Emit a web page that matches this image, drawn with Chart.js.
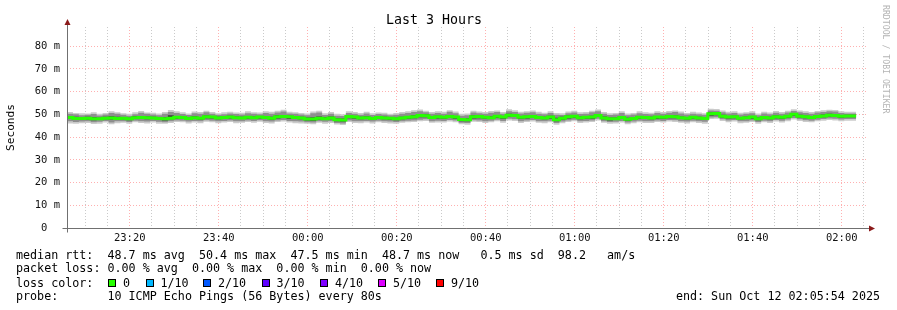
<!DOCTYPE html>
<html>
<head>
<meta charset="utf-8">
<script src="https://cdn.jsdelivr.net/npm/chart.js@4/dist/chart.umd.min.js"></script>
<style>
html, body { margin: 0; padding: 0; background: #fff; }
#wrap { position: relative; width: 897px; height: 310px; overflow: hidden; }
#chart { position: absolute; left: 0; top: 0; }
.txt { position: absolute; font: 11.7px 'DejaVu Sans Mono', monospace; line-height: 14px; white-space: pre; color: #000; }
.swatch { position: absolute; width: 6px; height: 6px; border: 1px solid #000; }
#mark { position: absolute; left: 881px; top: 5px; writing-mode: vertical-rl; font: 8.2px 'DejaVu Sans Mono', monospace; color: #b4b4b4; white-space: pre; }
</style>
</head>
<body>
<div id="wrap">
  <canvas id="chart" width="897" height="310"></canvas>
  <div id="mark">RRDTOOL / TOBI OETIKER</div>
</div>
<script>
// time axis in minutes from midnight (23:05:54 .. 02:05:54)
const startMin = -54.1;
const endMin = 125.9;
const stepMin = 80 / 60;

// median rtt per 80s probe (ms)
const medianRtt = [
  48.9, 48.6, 48.2, 48.2, 48.3, 48.1, 48.0, 48.3, 48.4, 48.2,
  48.3, 48.0, 48.5, 48.6, 48.5, 48.4, 48.2, 48.0, 48.3, 48.7,
  48.6, 48.2, 48.5, 48.3, 48.9, 48.8, 48.4, 48.6, 48.8, 48.5,
  48.4, 48.7, 48.5, 48.8, 48.6, 48.3, 48.9, 49.0, 48.9, 48.6,
  48.4, 47.9, 47.9, 48.3, 48.1, 48.4, 47.6, 47.5, 49.0, 48.8,
  48.4, 48.5, 48.2, 48.6, 48.4, 48.3, 48.0, 48.4, 48.7, 48.9,
  49.5, 49.4, 48.6, 48.9, 48.7, 49.0, 48.8, 47.7, 47.6, 48.9,
  49.0, 48.7, 48.5, 49.1, 48.8, 49.6, 49.5, 48.7, 48.9, 49.0,
  48.6, 48.4, 48.8, 47.6, 48.3, 48.9, 49.1, 48.5, 48.7, 48.8,
  49.5, 48.4, 48.0, 48.1, 48.6, 47.8, 48.2, 48.7, 48.6, 48.4,
  48.8, 48.7, 49.0, 48.9, 48.5, 48.3, 48.7, 48.4, 48.2, 50.2,
  50.4, 49.2, 48.8, 48.9, 48.3, 48.5, 48.8, 48.0, 48.6, 48.4,
  48.9, 48.7, 49.1, 50.0, 49.2, 48.9, 48.6, 49.0, 49.3, 49.6,
  49.5, 49.2, 49.3
];

// smoke, outer layer: slowest / fastest ping of each probe (ms)
const pingMax = [
  50.8, 51.0, 50.6, 50.5, 50.4, 50.9, 50.3, 50.6, 51.4, 50.9,
  50.5, 50.2, 50.9, 51.5, 50.8, 50.7, 50.4, 51.0, 51.9, 51.4,
  50.9, 50.4, 51.2, 51.0, 51.6, 51.0, 50.5, 50.9, 51.1, 50.8,
  50.7, 51.3, 50.9, 50.8, 51.3, 51.1, 51.6, 52.0, 51.1, 50.9,
  50.6, 50.4, 51.2, 51.6, 50.5, 51.0, 50.2, 50.0, 51.3, 51.0,
  50.6, 51.1, 50.5, 50.8, 50.7, 50.3, 50.6, 51.0, 51.4, 51.8,
  52.1, 51.6, 51.0, 51.3, 51.1, 51.8, 51.2, 50.2, 50.4, 51.6,
  51.2, 51.0, 51.5, 51.7, 51.0, 52.2, 51.8, 51.1, 51.4, 51.7,
  51.1, 50.7, 51.3, 50.6, 50.5, 51.2, 51.6, 50.9, 51.0, 51.6,
  52.1, 51.0, 50.5, 50.6, 51.4, 50.4, 50.6, 51.3, 50.9, 50.7,
  51.4, 51.0, 51.5, 51.7, 51.2, 50.6, 51.1, 50.8, 50.5, 52.4,
  52.3, 51.7, 51.1, 51.4, 50.7, 50.9, 51.3, 50.4, 51.1, 50.8,
  51.5, 51.0, 51.6, 52.2, 51.7, 51.3, 51.0, 51.5, 51.8, 52.0,
  51.9, 51.4, 51.1
];
const pingMin = [
  46.4, 46.0, 45.9, 46.1, 46.2, 45.7, 45.9, 46.4, 45.6, 46.1,
  46.3, 45.8, 46.5, 46.2, 46.0, 46.4, 45.9, 45.8, 46.2, 46.6,
  46.5, 46.0, 46.4, 46.1, 46.7, 46.5, 46.1, 46.4, 46.6, 46.1,
  46.3, 46.6, 46.3, 46.7, 46.2, 46.0, 46.6, 46.8, 46.4, 46.1,
  46.0, 45.8, 45.6, 46.3, 45.9, 46.2, 45.5, 45.3, 46.6, 46.2,
  46.1, 46.4, 46.0, 46.5, 46.2, 46.0, 45.9, 46.3, 46.5, 46.6,
  46.9, 47.1, 46.3, 46.4, 46.4, 46.8, 46.5, 45.6, 45.4, 46.7,
  46.6, 46.2, 46.5, 46.9, 46.3, 47.3, 47.1, 46.2, 46.6, 46.8,
  46.3, 46.1, 46.5, 45.4, 46.1, 46.6, 46.9, 46.2, 46.4, 46.6,
  47.3, 46.3, 45.8, 46.0, 46.4, 45.6, 46.1, 46.5, 46.2, 46.2,
  46.6, 46.4, 46.8, 46.6, 46.3, 46.0, 46.5, 46.2, 45.9, 47.9,
  48.0, 47.1, 46.5, 46.8, 46.1, 46.3, 46.6, 45.8, 46.5, 46.2,
  46.8, 46.4, 47.0, 47.7, 47.1, 46.6, 46.5, 46.9, 47.2, 47.5,
  47.3, 47.0, 47.2
];
// smoke, middle layer (ms)
const midHi = [
  50.0, 50.3, 50.0, 49.6, 49.8, 50.1, 49.5, 49.9, 50.6, 50.2,
  49.8, 49.4, 50.0, 50.7, 50.2, 49.9, 49.6, 50.3, 51.0, 50.6,
  50.1, 49.7, 50.5, 50.2, 50.9, 50.3, 49.8, 50.0, 50.4, 50.1,
  49.9, 50.5, 50.2, 50.0, 50.6, 50.3, 50.8, 51.2, 50.4, 50.2,
  49.9, 49.6, 50.5, 50.8, 49.7, 50.2, 49.4, 49.3, 50.6, 50.2,
  49.8, 50.4, 49.7, 50.1, 49.9, 49.6, 49.8, 50.3, 50.6, 51.0,
  51.3, 50.9, 50.2, 50.6, 50.3, 51.1, 50.5, 49.4, 49.6, 50.8,
  50.5, 50.2, 50.7, 51.0, 50.3, 51.4, 51.0, 50.4, 50.7, 50.9,
  50.3, 50.0, 50.6, 49.8, 49.7, 50.5, 50.8, 50.1, 50.3, 50.9,
  51.4, 50.2, 49.7, 49.9, 50.6, 49.6, 49.9, 50.5, 50.1, 50.0,
  50.6, 50.3, 50.7, 51.0, 50.4, 49.9, 50.3, 50.0, 49.8, 51.7,
  51.6, 50.9, 50.4, 50.6, 49.9, 50.2, 50.5, 49.6, 50.4, 50.0,
  50.7, 50.3, 50.8, 51.5, 50.9, 50.6, 50.2, 50.8, 51.0, 51.3,
  51.2, 50.6, 50.4
];
const midLo = [
  47.2, 46.9, 46.6, 46.8, 47.0, 46.5, 46.7, 47.1, 46.4, 46.9,
  47.0, 46.6, 47.2, 47.0, 46.8, 47.1, 46.7, 46.5, 47.0, 47.3,
  47.2, 46.8, 47.1, 46.9, 47.4, 47.2, 46.9, 47.1, 47.3, 46.9,
  47.0, 47.3, 47.1, 47.4, 47.0, 46.8, 47.3, 47.5, 47.1, 46.9,
  46.8, 46.5, 46.4, 47.0, 46.7, 46.9, 46.2, 46.0, 47.3, 47.0,
  46.9, 47.1, 46.8, 47.2, 46.9, 46.8, 46.6, 47.0, 47.2, 47.3,
  47.6, 47.8, 47.0, 47.2, 47.1, 47.5, 47.3, 46.3, 46.2, 47.4,
  47.3, 47.0, 47.2, 47.6, 47.1, 48.0, 47.8, 47.0, 47.3, 47.5,
  47.0, 46.9, 47.2, 46.2, 46.8, 47.3, 47.6, 47.0, 47.1, 47.3,
  48.0, 47.0, 46.6, 46.7, 47.1, 46.4, 46.8, 47.2, 47.0, 46.9,
  47.3, 47.1, 47.5, 47.4, 47.0, 46.8, 47.2, 47.0, 46.7, 48.6,
  48.7, 47.8, 47.3, 47.5, 46.9, 47.0, 47.3, 46.6, 47.2, 47.0,
  47.5, 47.2, 47.7, 48.4, 47.8, 47.4, 47.2, 47.6, 47.9, 48.2,
  48.0, 47.7, 47.9
];
// smoke, dense layer around the median (ms)
const smokeHi = [
  49.4, 49.3, 48.9, 48.7, 48.9, 48.8, 48.5, 48.9, 49.2, 48.9,
  48.8, 48.5, 49.1, 49.3, 49.0, 48.9, 48.6, 48.7, 49.6, 49.3,
  49.1, 48.7, 49.2, 48.8, 49.5, 49.3, 48.9, 49.1, 49.4, 49.0,
  48.9, 49.3, 49.0, 49.3, 49.2, 48.9, 49.6, 49.7, 49.4, 49.2,
  48.9, 48.6, 48.7, 49.0, 48.7, 49.0, 48.3, 48.2, 49.6, 49.3,
  48.9, 49.1, 48.7, 49.1, 48.9, 48.8, 48.5, 48.9, 49.3, 49.6,
  50.1, 49.9, 49.2, 49.4, 49.2, 49.7, 49.3, 48.4, 48.3, 49.5,
  49.5, 49.2, 49.1, 49.7, 49.3, 50.2, 50.0, 49.2, 49.4, 49.6,
  49.1, 48.9, 49.4, 48.5, 48.9, 49.5, 49.7, 49.0, 49.2, 49.4,
  50.1, 49.0, 48.6, 48.6, 49.2, 48.5, 48.7, 49.2, 49.1, 48.9,
  49.3, 49.2, 49.6, 49.5, 49.0, 48.8, 49.3, 48.9, 48.7, 50.8,
  50.9, 49.8, 49.3, 49.4, 48.8, 49.0, 49.3, 48.6, 49.1, 48.9,
  49.5, 49.2, 49.6, 50.6, 49.8, 49.4, 49.1, 49.6, 49.9, 50.2,
  50.0, 49.7, 49.8
];
const smokeLo = [
  48.2, 48.0, 47.6, 47.5, 47.7, 47.4, 47.5, 47.8, 47.7, 47.6,
  47.8, 47.4, 47.9, 48.0, 47.8, 47.9, 47.6, 47.3, 47.8, 48.1,
  48.0, 47.7, 47.9, 47.7, 48.3, 48.2, 47.8, 48.0, 48.2, 47.9,
  47.9, 48.1, 47.9, 48.2, 48.0, 47.7, 48.2, 48.4, 48.1, 47.9,
  47.8, 47.3, 47.2, 47.7, 47.6, 47.8, 46.9, 46.8, 48.3, 48.1,
  47.8, 47.9, 47.6, 47.9, 47.8, 47.6, 47.4, 47.8, 48.1, 48.3,
  48.7, 48.7, 47.9, 48.2, 48.0, 48.4, 48.1, 47.0, 46.9, 48.2,
  48.3, 48.0, 47.9, 48.4, 48.1, 48.9, 48.8, 48.0, 48.2, 48.4,
  47.9, 47.8, 48.1, 46.9, 47.6, 48.2, 48.5, 47.8, 48.0, 48.1,
  48.8, 47.8, 47.3, 47.5, 48.0, 47.2, 47.6, 48.0, 47.9, 47.8,
  48.1, 48.0, 48.3, 48.3, 47.9, 47.7, 48.1, 47.8, 47.5, 49.4,
  49.6, 48.6, 48.2, 48.3, 47.8, 47.9, 48.1, 47.4, 48.0, 47.8,
  48.3, 48.1, 48.5, 49.3, 48.6, 48.3, 48.0, 48.4, 48.7, 49.0,
  48.8, 48.5, 48.7
];

const lossLabels = ['0', '1/10', '2/10', '3/10', '4/10', '5/10', '9/10'];
const lossColors = ['#26ff00', '#00b8ff', '#0059ff', '#5e00ff', '#7e00ff', '#dd00ff', '#ff0000'];
const swatchX = [108, 145.5, 203, 261.5, 320, 378, 436];

const legendLines = [
  'median rtt:  48.7 ms avg  50.4 ms max  47.5 ms min  48.7 ms now   0.5 ms sd  98.2   am/s',
  'packet loss: 0.00 % avg  0.00 % max  0.00 % min  0.00 % now',
  'loss color:',
  'probe:       10 ICMP Echo Pings (56 Bytes) every 80s'
];
const endText = 'end: Sun Oct 12 02:05:54 2025';
const lineTops = [247.5, 261.3, 275.7, 289];

const wrap = document.getElementById('wrap');
function addText(str, left, top) {
  const d = document.createElement('div');
  d.className = 'txt';
  d.textContent = str;
  d.style.left = left + 'px';
  d.style.top = top + 'px';
  wrap.appendChild(d);
  return d;
}
legendLines.forEach((l, i) => addText(l, 16, lineTops[i]));
const endDiv = addText(endText, 0, lineTops[3]);
endDiv.style.left = 'auto';
endDiv.style.right = '17px';
lossLabels.forEach((lab, i) => {
  const sw = document.createElement('div');
  sw.className = 'swatch';
  sw.style.left = swatchX[i] + 'px';
  sw.style.top = '279px';
  sw.style.background = lossColors[i];
  wrap.appendChild(sw);
  addText(lab, swatchX[i] + 15, lineTops[2]);
});

// each probe covers one 80s step; repeat the last value to close its step
function toPoints(arr) {
  const pts = arr.map((v, i) => ({ x: startMin + i * stepMin, y: v }));
  pts.push({ x: startMin + arr.length * stepMin, y: arr[arr.length - 1] });
  return pts;
}

function clock(v) {
  const m = (Math.round(v) + 1440) % 1440;
  const h = Math.floor(m / 60);
  const mm = m % 60;
  return String(h).padStart(2, '0') + ':' + String(mm).padStart(2, '0');
}

// grid every 5 units (5 min / 5 ms)
const everyFive = (scale) => {
  const ticks = [];
  for (let v = Math.ceil(scale.min / 5) * 5; v <= scale.max + 1e-9; v += 5) ticks.push({ value: v });
  scale.ticks = ticks;
};

const majorGrid = 'rgba(255, 80, 80, 0.45)';
const minorGrid = 'rgba(150, 150, 150, 0.5)';
const monoFont = "'DejaVu Sans Mono', monospace";

const axisArrows = {
  id: 'axisArrows',
  afterDraw(chart) {
    const { ctx, chartArea: a } = chart;
    const l = Math.round(a.left) + 0.5;
    const b = Math.round(a.bottom) + 0.5;
    ctx.save();
    ctx.strokeStyle = '#707070';
    ctx.lineWidth = 1;
    ctx.beginPath();
    ctx.moveTo(l, b + 4);
    ctx.lineTo(l, a.top - 3);
    ctx.moveTo(l - 5, b);
    ctx.lineTo(a.right + 2, b);
    ctx.stroke();
    ctx.fillStyle = '#8b1a1a';
    ctx.beginPath();
    ctx.moveTo(l, a.top - 8);
    ctx.lineTo(l - 3, a.top - 2);
    ctx.lineTo(l + 3, a.top - 2);
    ctx.closePath();
    ctx.fill();
    ctx.beginPath();
    ctx.moveTo(a.right + 7, b);
    ctx.lineTo(a.right + 1, b - 3);
    ctx.lineTo(a.right + 1, b + 3);
    ctx.closePath();
    ctx.fill();
    ctx.restore();
  }
};

const stepLine = { stepped: 'after', pointRadius: 0, borderWidth: 0, tension: 0, borderColor: 'rgba(0,0,0,0)' };

new Chart(document.getElementById('chart'), {
  type: 'line',
  data: {
    datasets: [
      { ...stepLine, label: 'max', data: toPoints(pingMax), fill: '+1', backgroundColor: '#cbcbcb', order: 7 },
      { ...stepLine, label: 'min', data: toPoints(pingMin), fill: false, order: 6 },
      { ...stepLine, label: 'mid hi', data: toPoints(midHi), fill: '+1', backgroundColor: '#8e8e8e', order: 5 },
      { ...stepLine, label: 'mid lo', data: toPoints(midLo), fill: false, order: 4 },
      { ...stepLine, label: 'hi', data: toPoints(smokeHi), fill: '+1', backgroundColor: '#3c3c3c', order: 3 },
      { ...stepLine, label: 'lo', data: toPoints(smokeLo), fill: false, order: 2 },
      { ...stepLine, label: 'median rtt', data: toPoints(medianRtt), fill: false, borderColor: lossColors[0], borderWidth: 3, order: 1 }
    ]
  },
  options: {
    responsive: false,
    animation: false,
    devicePixelRatio: 1,
    layout: { padding: { left: 0, right: 29, top: 0, bottom: 0 } },
    plugins: {
      legend: { display: false },
      tooltip: { enabled: false },
      title: {
        display: true,
        text: 'Last 3 Hours',
        color: '#000',
        font: { family: monoFont, size: 13.3, weight: 'normal', lineHeight: 1 },
        padding: { top: 13.5, bottom: 0.2 }
      }
    },
    scales: {
      x: {
        type: 'linear',
        min: startMin,
        max: endMin,
        afterFit: (s) => { s.height = 82; },
        afterBuildTicks: everyFive,
        border: { display: false, dash: [1, 2] },
        grid: {
          drawTicks: false,
          color: (c) => (c.tick && Math.round(c.tick.value) % 20 === 0 ? majorGrid : minorGrid)
        },
        ticks: {
          autoSkip: false,
          maxRotation: 0,
          padding: 4,
          color: '#111',
          font: { family: monoFont, size: 10.5 },
          callback: (v) => (Math.round(v) % 20 === 0 ? clock(v) : '')
        }
      },
      y: {
        min: 0,
        max: 88.4,
        afterFit: (s) => { s.width = 67; },
        afterBuildTicks: everyFive,
        border: { display: false, dash: [1, 2] },
        grid: {
          drawTicks: false,
          color: (c) => (c.tick && Math.round(c.tick.value) % 10 === 0 ? majorGrid : minorGrid)
        },
        title: {
          display: true,
          text: 'Seconds',
          color: '#000',
          font: { family: monoFont, size: 11.1, lineHeight: 1 },
          padding: { top: 5.5, bottom: 0 }
        },
        ticks: {
          padding: 7,
          color: '#111',
          font: { family: monoFont, size: 10.5 },
          callback: (v) => {
            const r = Math.round(v);
            if (r % 10 !== 0) return '';
            return r === 0 ? '0  ' : r + ' m';
          }
        }
      }
    }
  },
  plugins: [axisArrows]
});
</script>
</body>
</html>
